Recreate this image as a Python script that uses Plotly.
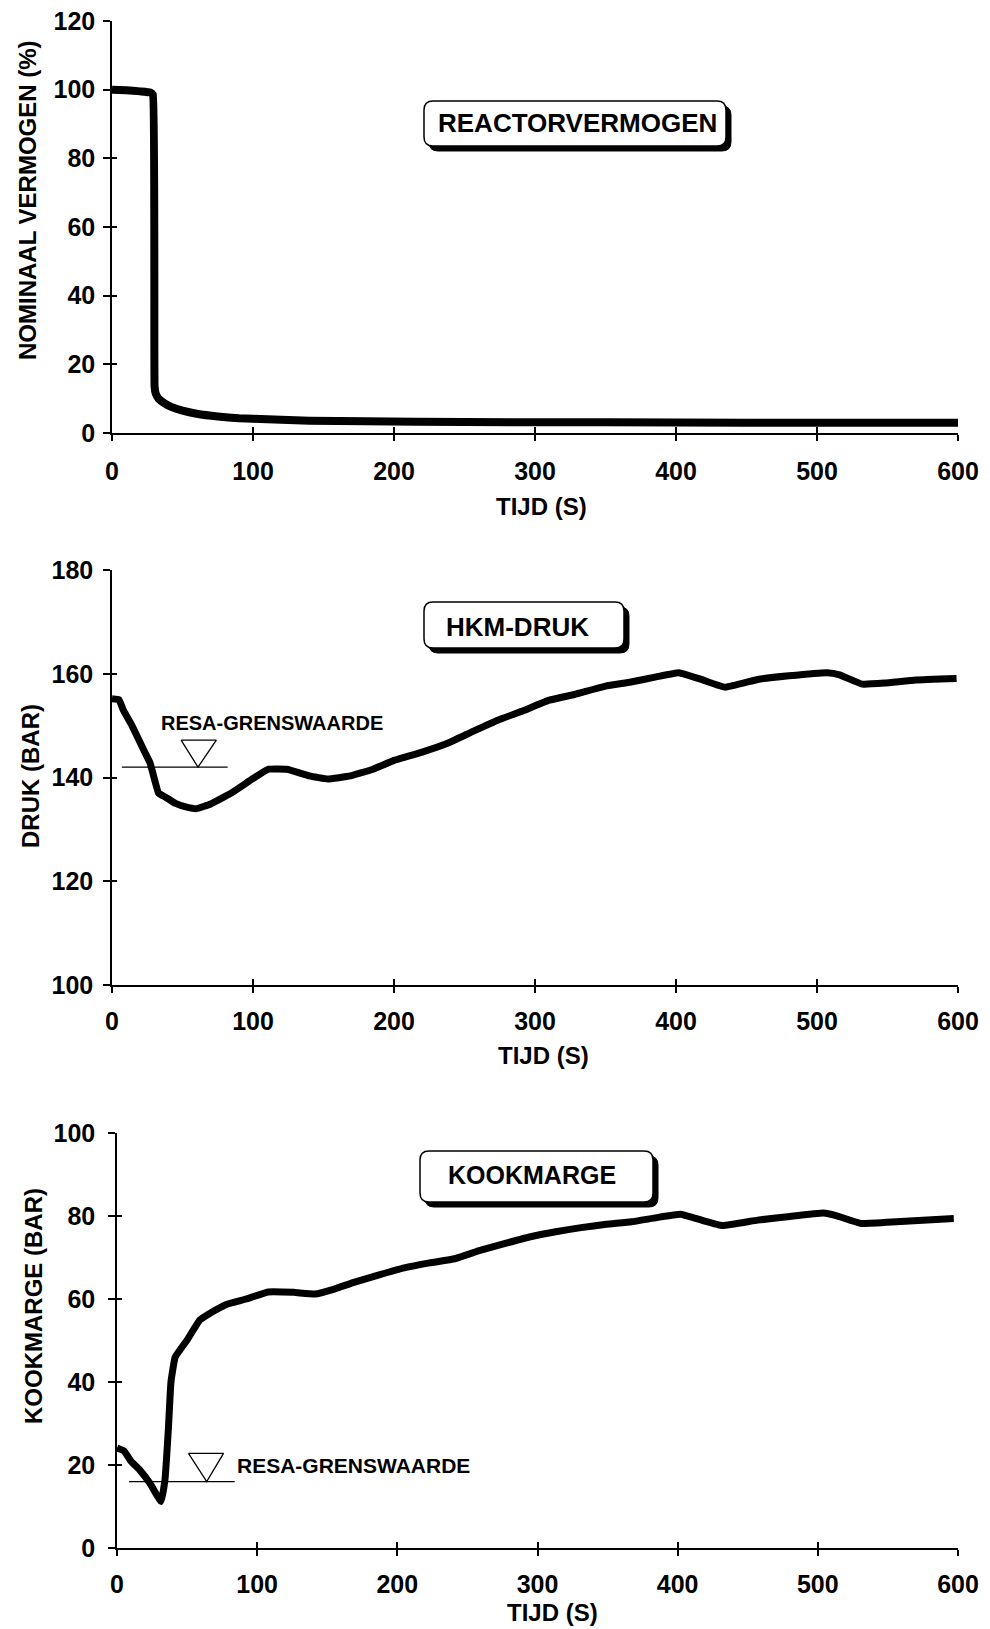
import plotly.graph_objects as go

W, H = 990, 1629

# ---------------- data ----------------
# Panel 1: reactor power (% nominal) vs time (s)
t_power = [0, 10, 20, 27, 29, 30.2, 31, 33, 37, 42, 50, 60, 75, 90, 110, 140, 180, 250, 350, 450, 600]
power = [100, 99.8, 99.5, 99.2, 98.5, 13.5, 11.5, 10.0, 8.7, 7.6, 6.5, 5.6, 4.8, 4.3, 4.0, 3.6, 3.4, 3.2, 3.1, 3.0, 3.0]

# Panel 2: primary circuit pressure (bar)
t_druk = [0, 5, 8, 14, 23, 27, 33, 38, 45, 53, 60, 70, 84, 100, 111, 124, 140, 153, 169, 185, 200, 220,
          238, 256, 274, 292, 310, 328, 350, 368, 386, 402, 418, 435, 458, 480, 507, 516, 532, 548, 570, 599]
druk = [155.2, 155.0, 153.0, 150.1, 145.0, 142.8, 137.0, 136.2, 135.0, 134.3, 134.0, 134.9, 136.9, 139.8,
        141.6, 141.6, 140.3, 139.7, 140.3, 141.6, 143.3, 144.9, 146.6, 148.9, 151.1, 152.9, 154.9, 156.0,
        157.6, 158.4, 159.4, 160.2, 158.9, 157.4, 158.9, 159.6, 160.2, 159.8, 158.0, 158.2, 158.8, 159.1]

# Panel 3: boiling margin (bar)
t_kook = [0, 5, 10, 16, 23.5, 31.5, 34.2, 36.6, 38.5, 41.5, 50, 59, 67, 78, 92, 108, 126, 141, 155, 169,
          187, 205, 223, 241, 259, 277, 295, 313, 331, 349, 367, 385, 402, 417, 432, 457, 480, 504, 513,
          531, 556, 597]
kook = [24.1, 23.4, 20.9, 18.9, 15.6, 11.2, 16.4, 28.4, 40.0, 46.0, 50.1, 54.9, 56.7, 58.7, 60.0, 61.7,
        61.6, 61.2, 62.4, 64.0, 65.8, 67.5, 68.7, 69.7, 71.7, 73.4, 75.0, 76.2, 77.2, 78.0, 78.6, 79.6,
        80.4, 79.0, 77.7, 79.0, 79.9, 80.7, 80.1, 78.2, 78.6, 79.4]

# RESA threshold markers
resa_druk = 142
resa_druk_line_t = [7, 82]
resa_druk_tri_t = [49, 74, 61, 49]
resa_druk_tri_y = [147.2, 147.2, 142, 147.2]

resa_kook = 16
resa_kook_line_t = [8.6, 84]
resa_kook_tri_t = [51, 76, 64, 51]
resa_kook_tri_y = [22.8, 22.8, 16, 22.8]

x_ticks = [0, 100, 200, 300, 400, 500, 600]
y1_ticks = [0, 20, 40, 60, 80, 100, 120]
y2_ticks = [100, 120, 140, 160, 180]
y3_ticks = [0, 20, 40, 60, 80, 100]

y_titles = ["NOMINAAL VERMOGEN (%)", "DRUK (BAR)", "KOOKMARGE (BAR)"]
x_title = "TIJD (S)"
box_titles = ["REACTORVERMOGEN", "HKM-DRUK", "KOOKMARGE"]
resa_label = "RESA-GRENSWAARDE"

# ---------------- layout helpers (pixel -> paper) ----------------
def px(x):
    return x / W

def py(y):
    return 1 - y / H

FONT = "Liberation Sans, Arial, Helvetica, sans-serif"

# plot areas in pixels: (left, right, top, bottom)
areas = [(112, 958, 21, 433), (112, 958, 570, 985), (117, 958, 1133, 1548)]
y_ranges = [[0, 120], [100, 180], [0, 100]]
y_tick_sets = [y1_ticks, y2_ticks, y3_ticks]
y_standoff = [3, 5, 8]
x_standoff = [9, 7, 7]

fig = go.Figure()

line_w = [8, 7, 7]
series = [(t_power, power), (t_druk, druk), (t_kook, kook)]
for i, (tx, ty) in enumerate(series):
    sfx = "" if i == 0 else str(i + 1)
    fig.add_trace(go.Scatter(x=tx, y=ty, mode="lines", xaxis="x" + sfx, yaxis="y" + sfx,
                             line=dict(color="black", width=line_w[i], shape="spline", smoothing=0.3),
                             showlegend=False, hoverinfo="skip"))

# threshold lines and triangles
fig.add_trace(go.Scatter(x=resa_druk_line_t, y=[resa_druk] * 2, mode="lines", xaxis="x2", yaxis="y2",
                         line=dict(color="black", width=1.3), showlegend=False, hoverinfo="skip"))
fig.add_trace(go.Scatter(x=resa_druk_tri_t, y=resa_druk_tri_y, mode="lines", xaxis="x2", yaxis="y2",
                         line=dict(color="black", width=1.3), showlegend=False, hoverinfo="skip"))
fig.add_trace(go.Scatter(x=resa_kook_line_t, y=[resa_kook] * 2, mode="lines", xaxis="x3", yaxis="y3",
                         line=dict(color="black", width=1.3), showlegend=False, hoverinfo="skip"))
fig.add_trace(go.Scatter(x=resa_kook_tri_t, y=resa_kook_tri_y, mode="lines", xaxis="x3", yaxis="y3",
                         line=dict(color="black", width=1.3), showlegend=False, hoverinfo="skip"))

# empty traces for overlay (inside-tick) axes
for k in range(3):
    fig.add_trace(go.Scatter(x=[None], y=[None], xaxis="x" + str(k + 4), yaxis="y" + str(k + 4),
                             showlegend=False, hoverinfo="skip"))

layout = dict(width=W, height=H, margin=dict(l=0, r=0, t=0, b=0, pad=0, autoexpand=False),
              paper_bgcolor="white", plot_bgcolor="white", showlegend=False)

tickfont = dict(family=FONT, size=25, color="black", weight="bold")

for i, (l, r, t, b) in enumerate(areas):
    n = i + 1
    sfx = "" if n == 1 else str(n)
    xdom = [px(l), px(r)]
    ydom = [py(b), py(t)]
    layout["xaxis" + sfx] = dict(domain=xdom, anchor="y" + sfx, range=[0, 600], tickvals=x_ticks,
                                 ticks="outside", ticklen=6, tickwidth=1.5, tickcolor="black",
                                 showline=True, linewidth=1.5, linecolor="black", showgrid=False,
                                 zeroline=False, tickfont=tickfont, ticklabelstandoff=x_standoff[i],
                                 fixedrange=True, automargin=False)
    layout["yaxis" + sfx] = dict(domain=ydom, anchor="x" + sfx, range=y_ranges[i], tickvals=y_tick_sets[i],
                                 ticks="outside", ticklen=7, tickwidth=1.5, tickcolor="black",
                                 showline=True, linewidth=1.5, linecolor="black", showgrid=False,
                                 zeroline=False, tickfont=tickfont, ticklabelstandoff=y_standoff[i],
                                 fixedrange=True, automargin=False)
    o = str(n + 3)
    layout["xaxis" + o] = dict(overlaying="x" + sfx, anchor="y" + o, range=[0, 600], tickvals=x_ticks,
                               ticks="inside", ticklen=6, tickwidth=1.5, tickcolor="black",
                               showticklabels=False, showline=False, showgrid=False, zeroline=False,
                               automargin=False, fixedrange=True)
    layout["yaxis" + o] = dict(overlaying="y" + sfx, anchor="x" + o, range=y_ranges[i], tickvals=y_tick_sets[i],
                               ticks="inside", ticklen=5, tickwidth=1.5, tickcolor="black",
                               showticklabels=False, showline=False, showgrid=False, zeroline=False,
                               automargin=False, fixedrange=True)

annotations = []
# axis titles
y_title_pos = [(27, 200), (30, 776), (33, 1306)]
x_title_pos = [(541, 506), (543, 1055), (552, 1612)]
for i in range(3):
    annotations.append(dict(text=y_titles[i], x=px(y_title_pos[i][0]), y=py(y_title_pos[i][1]),
                            xref="paper", yref="paper", showarrow=False, textangle=-90,
                            xanchor="center", yanchor="middle",
                            font=dict(family=FONT, size=24, color="black", weight="bold")))
    annotations.append(dict(text=x_title, x=px(x_title_pos[i][0]), y=py(x_title_pos[i][1]),
                            xref="paper", yref="paper", showarrow=False,
                            xanchor="center", yanchor="middle",
                            font=dict(family=FONT, size=24, color="black", weight="bold")))

# boxed titles
boxes = [(424, 726, 101, 146), (424, 624, 602, 648), (420, 653, 1151, 1202)]
box_text_pos = [(577, 123), (517, 627), (532, 1175)]
box_font = [26, 26, 25]


def rrect(x0, y0, x1, y1, r):
    pts = [("M", x0 + r, y0), ("L", x1 - r, y0), ("Q", x1, y0, x1, y0 + r), ("L", x1, y1 - r),
           ("Q", x1, y1, x1 - r, y1), ("L", x0 + r, y1), ("Q", x0, y1, x0, y1 - r), ("L", x0, y0 + r),
           ("Q", x0, y0, x0 + r, y0)]
    s = ""
    for p in pts:
        cmd = p[0]
        coords = p[1:]
        parts = []
        for j in range(0, len(coords), 2):
            parts.append(f"{px(coords[j]):.5f},{py(coords[j + 1]):.5f}")
        s += cmd + " " + " ".join(parts) + " "
    return s + "Z"


shapes = []
for i, (x0, x1, y0, y1) in enumerate(boxes):
    shapes.append(dict(type="path", path=rrect(x0 + 5, y0 + 5, x1 + 5, y1 + 5, 9), xref="paper", yref="paper",
                       fillcolor="black", line=dict(color="black", width=1)))
    shapes.append(dict(type="path", path=rrect(x0, y0, x1, y1, 9), xref="paper", yref="paper",
                       fillcolor="white", line=dict(color="black", width=1.5)))
    annotations.append(dict(text=box_titles[i], x=px(box_text_pos[i][0]), y=py(box_text_pos[i][1]),
                            xref="paper", yref="paper", showarrow=False, xanchor="center", yanchor="middle",
                            font=dict(family=FONT, size=box_font[i], color="black", weight="bold")))

# RESA labels
annotations.append(dict(text=resa_label, x=113.5, y=150.5, xref="x2", yref="y2", showarrow=False,
                        xanchor="center", yanchor="middle",
                        font=dict(family=FONT, size=20, color="black", weight="bold")))
annotations.append(dict(text=resa_label, x=84.5, y=20, xref="x3", yref="y3", showarrow=False,
                        xanchor="left", yanchor="middle",
                        font=dict(family=FONT, size=21, color="black", weight="bold")))

layout["annotations"] = annotations
layout["shapes"] = shapes
fig.update_layout(**layout)

fig.write_html("out.html", config={"responsive": False, "displayModeBar": False},
               post_script="document.body.style.margin='0';document.body.style.overflow='hidden';")
